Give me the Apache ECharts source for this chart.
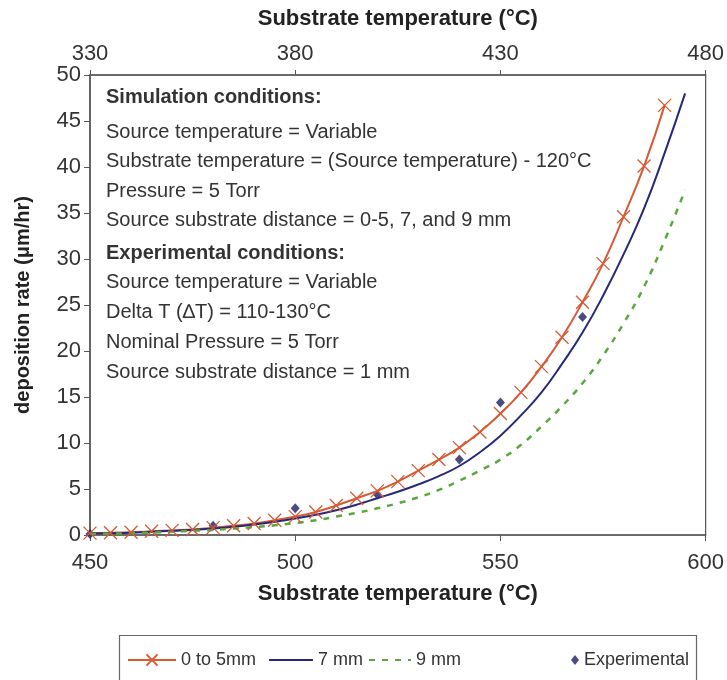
<!DOCTYPE html>
<html><head><meta charset="utf-8">
<script src="https://cdn.jsdelivr.net/npm/echarts@6/dist/echarts.min.js"></script>
<style>html,body{margin:0;padding:0;background:#fff}#c{width:727px;height:680px}</style>
</head><body><div id="c"></div>
<script>
// ---- data ----
const redTemps = [450,455,460,465,470,475,480,485,490,495,500,505,510,515,520,525,530,535,540,545,550,555,560,565,570,575,580,585,590];
const redRates = [0.2,0.25,0.3,0.4,0.5,0.6,0.8,1.0,1.25,1.6,2.0,2.5,3.2,4.0,4.8,5.8,7.0,8.2,9.5,11.2,13.2,15.5,18.3,21.5,25.3,29.5,34.6,40.1,46.7];
const blueTemps = [450,455,460,465,470,475,480,485,490,495,500,505,510,515,520,525,530,535,540,545,550,555,560,565,570,575,580,585,590,595];
const blueRates = [0.15,0.2,0.25,0.35,0.45,0.55,0.7,0.9,1.15,1.45,1.8,2.2,2.7,3.3,4.0,4.7,5.5,6.4,7.5,9.0,10.8,13.0,15.5,18.6,22.0,26.0,30.5,35.5,41.5,48.0];
const greenTemps = [450,455,460,465,470,475,480,485,490,495,500,505,510,515,520,525,530,535,540,545,550,555,560,565,570,575,580,585,590,595];
const greenRates = [0.1,0.15,0.2,0.27,0.35,0.45,0.55,0.7,0.85,1.05,1.3,1.6,2.0,2.4,2.9,3.45,4.1,4.9,5.9,7.0,8.2,9.8,11.8,14.0,16.5,19.5,23.0,27.0,32.0,37.5];
const expTemps = [450,480,500,520,540,550,570];
const expRates = [0.1,1.0,2.9,4.4,8.2,14.4,23.7];
const seriesNames = ['0 to 5mm','7 mm','9 mm','Experimental'];
const noteLines = [
  {t:'Simulation conditions:', b:true},
  {t:'Source temperature = Variable', b:false},
  {t:'Substrate temperature = (Source temperature) - 120°C', b:false},
  {t:'Pressure = 5 Torr', b:false},
  {t:'Source substrate distance = 0-5, 7, and 9 mm', b:false},
  {t:'Experimental conditions:', b:true},
  {t:'Source temperature = Variable', b:false},
  {t:'Delta T (\u2206T) = 110-130°C', b:false},
  {t:'Nominal Pressure = 5 Torr', b:false},
  {t:'Source substrate distance = 1 mm', b:false}
];
const noteY = [98,133,162,192,221,254,283,313,343,373];

const zip = (a,b)=>a.map((v,i)=>[v,b[i]]);
const FONT = '"Liberation Sans", Arial, sans-serif';
const RED = '#d65a33', BLUE = '#27287a', GREEN = '#5aa83c', DIAM = '#1d1d66';
const AX = '#555';

const chart = echarts.init(document.getElementById('c'), null, {renderer:'canvas'});
const crossPath = 'path://M0,0L10,10M10,0L0,10';
const legText = {fontSize:18,color:'#333',fontFamily:FONT};
const hideSym = {opacity:0};

const option = {
  backgroundColor:'#fff',
  animation:false,
  textStyle:{fontFamily:FONT},
  grid:{left:90,right:21,top:75,bottom:145,show:true,borderColor:AX,borderWidth:1.2,backgroundColor:'transparent'},
  xAxis:[
    {type:'value',min:450,max:600,interval:50,position:'bottom',
     name:'Substrate temperature (°C)',nameLocation:'middle',nameGap:48,
     nameTextStyle:{fontSize:22,fontWeight:'bold',color:'#222',fontFamily:FONT},
     axisLine:{show:true,lineStyle:{color:AX,width:1.5}},
     axisTick:{show:true,length:6,lineStyle:{color:AX}},
     axisLabel:{fontSize:22,color:'#333',margin:17,fontFamily:FONT},
     splitLine:{show:false}},
    {type:'value',min:330,max:480,interval:50,position:'top',
     name:'Substrate temperature (°C)',nameLocation:'middle',nameGap:45,
     nameTextStyle:{fontSize:22,fontWeight:'bold',color:'#222',fontFamily:FONT},
     axisLine:{show:true,onZero:false,lineStyle:{color:AX,width:1.5}},
     axisTick:{show:true,length:5,lineStyle:{color:AX}},
     axisLabel:{fontSize:22,color:'#333',margin:10,fontFamily:FONT},
     splitLine:{show:false}}
  ],
  yAxis:{type:'value',min:0,max:50,interval:5,
     name:'deposition rate (μm/hr)',nameLocation:'middle',nameGap:57,nameRotate:90,
     nameTextStyle:{fontSize:20,fontWeight:'bold',color:'#222',fontFamily:FONT},
     axisLine:{show:true,lineStyle:{color:AX,width:1.5}},
     axisTick:{show:true,length:6,lineStyle:{color:AX}},
     axisLabel:{fontSize:22,color:'#333',margin:9,fontFamily:FONT},
     splitLine:{show:false}},
  legend:[
    {data:[seriesNames[0]],left:122,top:646,itemWidth:48,itemHeight:14,textStyle:legText},
    {data:[{name:seriesNames[1],itemStyle:hideSym}],left:263,top:646,itemWidth:44,itemHeight:14,textStyle:legText},
    {data:[{name:seriesNames[2],itemStyle:hideSym}],left:363,top:646,itemWidth:42,itemHeight:14,textStyle:legText},
    {data:[seriesNames[3]],left:566,top:646,itemWidth:8,itemHeight:10,textStyle:legText}
  ],
  graphic:[
    {type:'rect',left:117,top:633,shape:{width:577,height:52},style:{fill:'none',stroke:'#666',lineWidth:1.2},silent:true}
  ].concat(noteLines.map((l,i)=>({
    type:'text',left:106,top:noteY[i]-11,silent:true,
    style:{text:l.t,fontSize:20,fontWeight:l.b?'bold':'normal',fill:'#333',fontFamily:FONT}
  }))),
  series:[
    {name:seriesNames[0],type:'line',data:zip(redTemps,redRates),smooth:true,
     symbol:crossPath,symbolSize:13,showSymbol:true,color:RED,
     itemStyle:{color:RED,borderColor:RED,borderWidth:1.3},
     lineStyle:{color:RED,width:2}},
    {name:seriesNames[1],type:'line',data:zip(blueTemps,blueRates),smooth:true,
     symbol:'none',color:BLUE,lineStyle:{color:BLUE,width:2}},
    {name:seriesNames[2],type:'line',data:zip(greenTemps,greenRates),smooth:true,
     symbol:'none',color:GREEN,lineStyle:{color:GREEN,width:2.5,type:[6,7]}},
    {name:seriesNames[3],type:'scatter',data:zip(expTemps,expRates),symbol:'diamond',symbolSize:[9,10],
     color:DIAM,itemStyle:{color:DIAM}}
  ]
};
chart.setOption(option);
</script></body></html>
